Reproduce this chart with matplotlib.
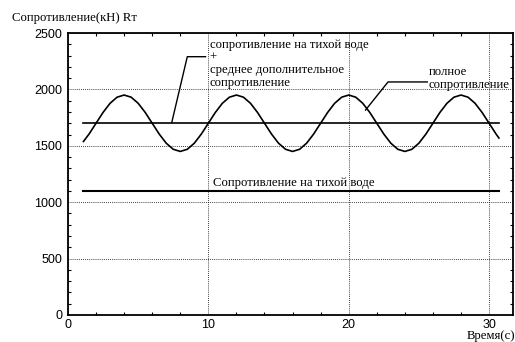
import matplotlib
matplotlib.use("Agg")
import matplotlib.pyplot as plt
import numpy as np
from matplotlib.ticker import MultipleLocator

# time samples (s) and total resistance (kN)
time_s = [1.1] + list(np.arange(1.5, 30.51, 0.5)) + [30.7]
total_res = [1538, 1604,
             1700, 1796, 1877, 1931, 1950, 1931, 1877, 1796,
             1700, 1604, 1523, 1469, 1450, 1469, 1523, 1604,
             1700, 1796, 1877, 1931, 1950, 1931, 1877, 1796,
             1700, 1604, 1523, 1469, 1450, 1469, 1523, 1604,
             1700, 1796, 1877, 1931, 1950, 1931, 1877, 1796,
             1700, 1604, 1523, 1469, 1450, 1469, 1523, 1604,
             1700, 1796, 1877, 1931, 1950, 1931, 1877, 1796,
             1700, 1604, 1569]

line_x = [1.1, 30.7]
calm_plus_mean = 1700   # calm water + mean added resistance
calm_water = 1100       # calm water resistance

serif = "Liberation Serif"
sans = "Liberation Sans"
fs = 9.2

fig = plt.figure(figsize=(5.15, 3.42), dpi=100)
ax = fig.add_axes([0.132, 0.079, 0.864, 0.8245])

ax.plot(time_s, total_res, color="black", lw=1.2)
ax.plot(line_x, [calm_plus_mean] * 2, color="black", lw=1.2)
ax.plot(line_x, [calm_water] * 2, color="black", lw=1.5)

ax.set_xlim(0, 31.7)
ax.set_ylim(0, 2500)
ax.xaxis.set_major_locator(MultipleLocator(10))
ax.yaxis.set_major_locator(MultipleLocator(500))
ax.xaxis.set_minor_locator(MultipleLocator(2))
ax.yaxis.set_minor_locator(MultipleLocator(100))
ax.tick_params(which="both", direction="in", top=True, right=True, width=0.8)
ax.tick_params(which="major", length=0, labelsize=9)
ax.tick_params(axis="x", which="major", pad=3)
ax.tick_params(axis="y", which="major", pad=4)
ax.tick_params(which="minor", length=2.5)
for lab in ax.get_xticklabels() + ax.get_yticklabels():
    lab.set_fontfamily(sans)
ax.grid(True, which="major", color="black", linestyle=(0, (1, 1.5)), lw=0.6)
for s in ax.spines.values():
    s.set_linewidth(1.3)

# annotations
ax.text(10.1, 2445, "сопротивление на тихой воде\n+\nсреднее дополнительное\nсопротивление",
        fontsize=fs, family=serif, va="top", ha="left", linespacing=1.05)
ax.plot([9.8, 8.5, 7.4], [2290, 2290, 1710], color="black", lw=1.0)

ax.text(25.7, 2205, "полное\nсопротивление", fontsize=fs, family=serif,
        va="top", ha="left", linespacing=1.05)
ax.plot([25.6, 22.8, 21.2], [2066, 2066, 1817], color="black", lw=1.0)

ax.text(10.3, 1170, "Сопротивление на тихой воде", fontsize=fs, family=serif,
        va="center", ha="left")

fig.text(0.023, 0.948, "Сопротивление(кН) Rт", fontsize=fs, family=serif,
         va="center", ha="left")
fig.text(0.907, 0.0, "Время(с)", fontsize=fs, family=serif, va="bottom", ha="left")

fig.savefig("out.png", dpi=100)
